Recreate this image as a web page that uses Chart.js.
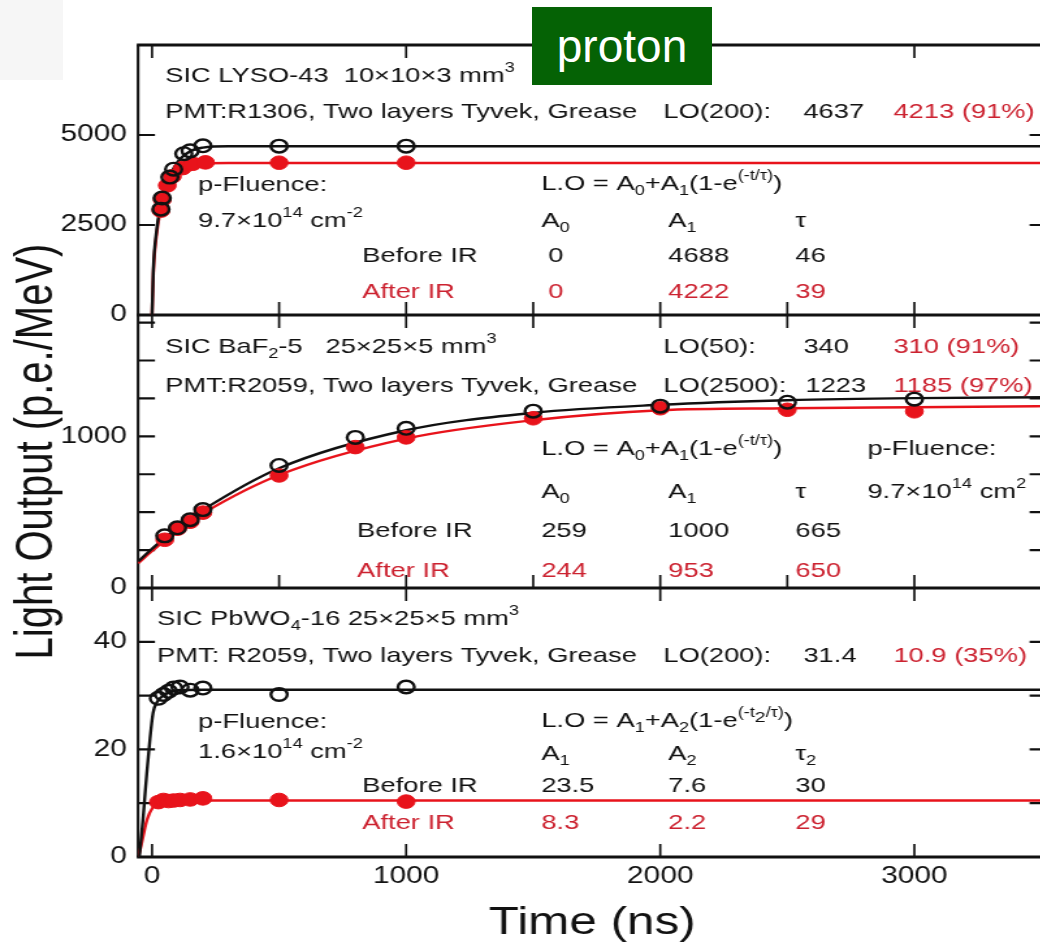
<!DOCTYPE html>
<html>
<head>
<meta charset="utf-8">
<script src="https://cdn.jsdelivr.net/npm/chart.js@4.4.1/dist/chart.umd.min.js"></script>
<style>
html,body{margin:0;padding:0;background:#fff;overflow:hidden;width:1040px;height:946px;}
#wrap{position:absolute;left:0;top:0;width:1040px;height:946px;overflow:hidden;background:#fff;}
#c{position:absolute;left:0;top:0;}
#gray{position:absolute;left:0;top:0;width:63px;height:80px;background:#f6f6f6;}
#proton{position:absolute;left:532px;top:7px;width:180px;height:78px;background:#056205;color:#fff;
  font-family:"Liberation Sans",Arial,sans-serif;font-size:46px;line-height:78px;text-align:center;}
</style>
</head>
<body>
<div id="wrap">
  <div id="gray"></div>
  <canvas id="c" width="815" height="946" style="width:1059.5px;height:946px;"></canvas>
  <div id="proton">proton</div>
</div>
<script>
// ---------------- data ----------------
// Panel 1: SIC LYSO-43
const lysoTimeBefore = [35, 40, 70, 85, 125, 150, 200, 500, 1000];
const lysoLOBefore   = [2940, 3250, 3830, 4050, 4480, 4560, 4700, 4690, 4690];
const lysoTimeAfter  = [35, 40, 60, 80, 120, 160, 210, 500, 1000];
const lysoLOAfter    = [2900, 3200, 3600, 3850, 4080, 4200, 4240, 4230, 4230];
const lysoFitTime      = [0, 5, 18, 30, 50, 70, 100, 150, 200, 300, 3520];
const lysoFitBefore    = [0, 1250, 2360, 2900, 3400, 3850, 4250, 4550, 4650, 4688, 4688];
const lysoFitAfter     = [0, 1150, 2250, 2800, 3300, 3650, 3950, 4150, 4210, 4222, 4222];

// Panel 2: SIC BaF2-5
const bafTime      = [50, 100, 150, 200, 500, 800, 1000, 1500, 2000, 2500, 3000];
const bafLOBefore  = [344, 397, 450, 517, 808, 993, 1053, 1166, 1199, 1225, 1245];
const bafLOAfter   = [318, 391, 437, 497, 742, 929, 993, 1119, 1185, 1175, 1165];
const bafFitTime   = [-55, 0, 100, 200, 500, 1000, 1500, 2000, 2500, 3000, 3520];
const bafFitBefore = [175, 259, 398, 515, 790, 1040, 1155, 1208, 1238, 1252, 1258];
const bafFitAfter  = [163, 244, 380, 492, 745, 985, 1106, 1172, 1185, 1192, 1199];

// Panel 3: SIC PbWO4-16
const pwoTime      = [25, 45, 65, 85, 110, 150, 200, 500, 1000];
const pwoLOBefore  = [29.5, 30.2, 30.8, 31.4, 31.6, 31.0, 31.4, 30.2, 31.6];
const pwoLOAfter   = [10.2, 10.6, 10.4, 10.5, 10.6, 10.7, 10.9, 10.6, 10.3];
const pwoFitTimeBefore = [-50, -35, -20, -8, 4, 20, 50, 100, 200, 3520];
const pwoFitBefore     = [0, 7.4, 16, 22, 26.8, 28.8, 30.2, 31.0, 31.1, 31.1];
const pwoFitTimeAfter  = [-55, -47, -20, 4, 30, 80, 200, 3520];
const pwoFitAfter      = [0, 1.3, 6.9, 9.3, 10.2, 10.5, 10.5, 10.5];

// tick values / labels
const xTickLabels   = [0, 1000, 2000, 3000];
const xTickMarks    = [0, 500, 1000, 1500, 2000, 2500, 3000];
const lysoTicks     = [0, 2500, 5000];
const lysoLabeled   = [0, 2500, 5000];
const bafTicks      = [0, 250, 500, 750, 1000, 1250, 1500, 1750];
const bafLabeled    = [0, 1000];
const pwoTicks      = [0, 10, 20, 30, 40];
const pwoLabeled    = [0, 20, 40];

// ---------------- style ----------------
const FONT = '"Liberation Sans", Arial, Helvetica, sans-serif';
const SX = 1.3;            // the original figure is stretched horizontally
const BLACK = '#111111';
const RED = '#e8131b';
const RED_TEXT = '#cc2230';

function pts(xs, ys) { return xs.map((x, i) => ({ x: x, y: ys[i] })); }
function marks(label, xs, ys, axis, filled) {
  return {
    label, data: pts(xs, ys), yAxisID: axis, showLine: false,
    pointRadius: filled ? 6.8 : 6.3, pointHoverRadius: 6.5,
    pointBorderWidth: filled ? 1 : 2.4,
    pointBackgroundColor: filled ? RED : 'rgba(0,0,0,0)',
    pointBorderColor: filled ? RED : BLACK
  };
}
function curve(label, xs, ys, axis, color) {
  return {
    label, data: pts(xs, ys), yAxisID: axis, showLine: true,
    pointRadius: 0, borderColor: color, borderWidth: 2.4,
    cubicInterpolationMode: 'monotone', fill: false
  };
}

const datasets = [
  marks('LYSO before IR', lysoTimeBefore, lysoLOBefore, 'y1', false),
  marks('BaF2 before IR', bafTime, bafLOBefore, 'y2', false),
  marks('PbWO4 before IR', pwoTime, pwoLOBefore, 'y3', false),
  marks('LYSO after IR', lysoTimeAfter, lysoLOAfter, 'y1', true),
  marks('BaF2 after IR', bafTime, bafLOAfter, 'y2', true),
  marks('PbWO4 after IR', pwoTime, pwoLOAfter, 'y3', true),
  curve('LYSO fit before', lysoFitTime, lysoFitBefore, 'y1', BLACK),
  curve('BaF2 fit before', bafFitTime, bafFitBefore, 'y2', BLACK),
  curve('PbWO4 fit before', pwoFitTimeBefore, pwoFitBefore, 'y3', BLACK),
  curve('LYSO fit after', lysoFitTime, lysoFitAfter, 'y1', RED),
  curve('BaF2 fit after', bafFitTime, bafFitAfter, 'y2', RED),
  curve('PbWO4 fit after', pwoFitTimeAfter, pwoFitAfter, 'y3', RED)
];

// ---------------- annotation text (css px: left, baseline) ----------------
const F1 = ['L.O = A', {sub:'0'}, '+A', {sub:'1'}, '(1-e', {sup:'(-t/τ)'}, ')'];
const F2 = ['L.O = A', {sub:'1'}, '+A', {sub:'2'}, '(1-e', {sup:'(-t'}, {mid:'2'}, {sup:'/τ)'}, ')'];
const K = BLACK, R = RED_TEXT;
const notes = [
  [165, 82, K, ['SIC LYSO-43  10×10×3 mm', {sup:'3'}]],
  [165, 118, K, ['PMT:R1306, Two layers Tyvek, Grease']],
  [663, 118, K, ['LO(200):']], [803, 118, K, ['4637']], [893, 118, R, ['4213 (91%)']],
  [198, 191, K, ['p-Fluence:']],
  [198, 227, K, ['9.7×10', {sup:'14'}, ' cm', {sup:'-2'}]],
  [541, 190, K, F1],
  [541, 227, K, ['A', {sub:'0'}]], [668, 227, K, ['A', {sub:'1'}]], [795, 227, K, ['τ']],
  [362, 262, K, ['Before IR']], [548, 262, K, ['0']], [668, 262, K, ['4688']], [795, 262, K, ['46']],
  [362, 298, R, ['After IR']], [548, 298, R, ['0']], [668, 298, R, ['4222']], [795, 298, R, ['39']],

  [165, 353, K, ['SIC BaF', {sub:'2'}, '-5   25×25×5 mm', {sup:'3'}]],
  [663, 353, K, ['LO(50):']], [803, 353, K, ['340']], [893, 353, R, ['310 (91%)']],
  [165, 392, K, ['PMT:R2059, Two layers Tyvek, Grease']],
  [663, 392, K, ['LO(2500):']], [805, 392, K, ['1223']], [893, 392, R, ['1185 (97%)']],
  [541, 455, K, F1], [867, 455, K, ['p-Fluence:']],
  [541, 498, K, ['A', {sub:'0'}]], [668, 498, K, ['A', {sub:'1'}]], [795, 498, K, ['τ']],
  [867, 498, K, ['9.7×10', {sup:'14'}, ' cm', {sup:'2'}]],
  [357, 537, K, ['Before IR']], [541, 537, K, ['259']], [668, 537, K, ['1000']], [795, 537, K, ['665']],
  [357, 577, R, ['After IR']], [541, 577, R, ['244']], [668, 577, R, ['953']], [795, 577, R, ['650']],

  [157, 625, K, ['SIC PbWO', {sub:'4'}, '-16 25×25×5 mm', {sup:'3'}]],
  [157, 662, K, ['PMT: R2059, Two layers Tyvek, Grease']],
  [663, 662, K, ['LO(200):']], [803, 662, K, ['31.4']], [893, 662, R, ['10.9 (35%)']],
  [198, 728, K, ['p-Fluence:']],
  [198, 758, K, ['1.6×10', {sup:'14'}, ' cm', {sup:'-2'}]],
  [541, 727, K, F2],
  [541, 760, K, ['A', {sub:'1'}]], [668, 760, K, ['A', {sub:'2'}]], [795, 760, K, ['τ', {sub:'2'}]],
  [362, 792, K, ['Before IR']], [541, 792, K, ['23.5']], [668, 792, K, ['7.6']], [795, 792, K, ['30']],
  [362, 829, R, ['After IR']], [541, 829, R, ['8.3']], [668, 829, R, ['2.2']], [795, 829, R, ['29']]
];

function drawRich(ctx, x, y, parts, color) {
  let cx = x;
  ctx.fillStyle = color;
  ctx.textAlign = 'left';
  ctx.textBaseline = 'alphabetic';
  for (const p of parts) {
    let txt, size = 21, dy = 0;
    if (typeof p === 'string') { txt = p; }
    else if (p.sup !== undefined) { txt = p.sup; size = 14; dy = -10; }
    else if (p.sub !== undefined) { txt = p.sub; size = 14; dy = 5; }
    else { txt = p.mid; size = 15; dy = -5; }
    ctx.font = size + 'px ' + FONT;
    ctx.fillText(txt, cx, y + dy);
    cx += ctx.measureText(txt).width;
  }
}

const PANELS = ['y1', 'y2', 'y3'];
const framePlugin = {
  id: 'frame',
  beforeDatasetsDraw(chart) {
    const { ctx, chartArea: ca, scales } = chart;
    const xs = scales.x;
    const L = ca.left, Rt = ca.right;
    const YT = 13, XT = 13;
    ctx.save();
    ctx.strokeStyle = BLACK;
    // inward y ticks
    ctx.lineWidth = 2.2;
    ctx.beginPath();
    PANELS.forEach(id => {
      const ys = scales[id];
      ys.ticks.forEach(t => {
        const py = ys.getPixelForValue(t.value);
        ctx.moveTo(L, py); ctx.lineTo(L + YT, py);
        ctx.moveTo(Rt, py); ctx.lineTo(Rt - YT, py);
      });
    });
    ctx.stroke();
    // inward x ticks
    ctx.lineWidth = 1.7;
    ctx.beginPath();
    PANELS.forEach((id, k) => {
      const ys = scales[id];
      xTickMarks.forEach(v => {
        const major = v % 1000 === 0;
        if (k === 2 && !major) return;
        const px = xs.getPixelForValue(v);
        ctx.moveTo(px, ys.bottom); ctx.lineTo(px, ys.bottom - XT);
        if (k > 0 || major) { ctx.moveTo(px, ys.top); ctx.lineTo(px, ys.top + XT); }
      });
    });
    ctx.stroke();
    // frame: horizontal lines
    ctx.lineWidth = 2.8;
    ctx.beginPath();
    PANELS.forEach(id => {
      const ys = scales[id];
      ctx.moveTo(L - 1, ys.top); ctx.lineTo(Rt + 1, ys.top);
      ctx.moveTo(L - 1, ys.bottom); ctx.lineTo(Rt + 1, ys.bottom);
    });
    ctx.stroke();
    // frame: vertical lines
    ctx.lineWidth = 2.1;
    ctx.beginPath();
    ctx.moveTo(L, ca.top); ctx.lineTo(L, ca.bottom);
    ctx.moveTo(Rt, ca.top); ctx.lineTo(Rt, ca.bottom);
    ctx.stroke();
    // annotation text
    notes.forEach(n => drawRich(ctx, n[0] / SX, n[1], n[3], n[2]));
    ctx.restore();
  }
};

function yAxis(min, max, tickVals, labeled, weight, stackWeight, title) {
  return {
    type: 'linear', position: 'left', stack: 'panels', stackWeight: stackWeight, weight: weight,
    min: min, max: max, offset: false,
    afterBuildTicks: s => { s.ticks = tickVals.map(v => ({ value: v })); },
    afterFit: s => { s.width = 138 / SX; },
    grid: { display: false, drawTicks: false },
    border: { display: false },
    ticks: {
      autoSkip: false, padding: 8.5, color: BLACK,
      font: { family: FONT, size: 23 },
      callback: v => labeled.includes(v) ? String(v) : ''
    },
    title: title ? {
      display: true, text: title, color: BLACK,
      font: { family: FONT, size: 40, lineHeight: 1.2 },
      padding: { top: 5, bottom: 0 }
    } : { display: false }
  };
}

new Chart(document.getElementById('c'), {
  type: 'scatter',
  data: { datasets: datasets },
  options: {
    responsive: false,
    animation: false,
    devicePixelRatio: 1,
    layout: { padding: { left: 0, right: 815 - 1046 / SX, top: 45, bottom: 0 } },
    plugins: { legend: { display: false }, tooltip: { enabled: false } },
    scales: {
      x: {
        type: 'linear', position: 'bottom', min: -55, max: 3520,
        afterBuildTicks: s => { s.ticks = xTickLabels.map(v => ({ value: v })); },
        afterFit: s => { s.height = 89; },
        grid: { display: false, drawTicks: false },
        border: { display: false },
        ticks: { autoSkip: false, maxRotation: 0, padding: 6, color: BLACK, font: { family: FONT, size: 23 },
                 callback: v => String(v) },
        title: { display: true, text: 'Time (ns)', color: BLACK, font: { family: FONT, size: 38, lineHeight: 1.2 }, padding: { top: 0, bottom: 0 } }
      },
      y1: yAxis(0, 7500, lysoTicks, lysoLabeled, 3, 270, null),
      y2: yAxis(0, 1800, bafTicks, bafLabeled, 2, 273, 'Light Output (p.e./MeV)'),
      y3: yAxis(0, 50, pwoTicks, pwoLabeled, 1, 269, null)
    }
  },
  plugins: [framePlugin]
});
</script>
</body>
</html>
